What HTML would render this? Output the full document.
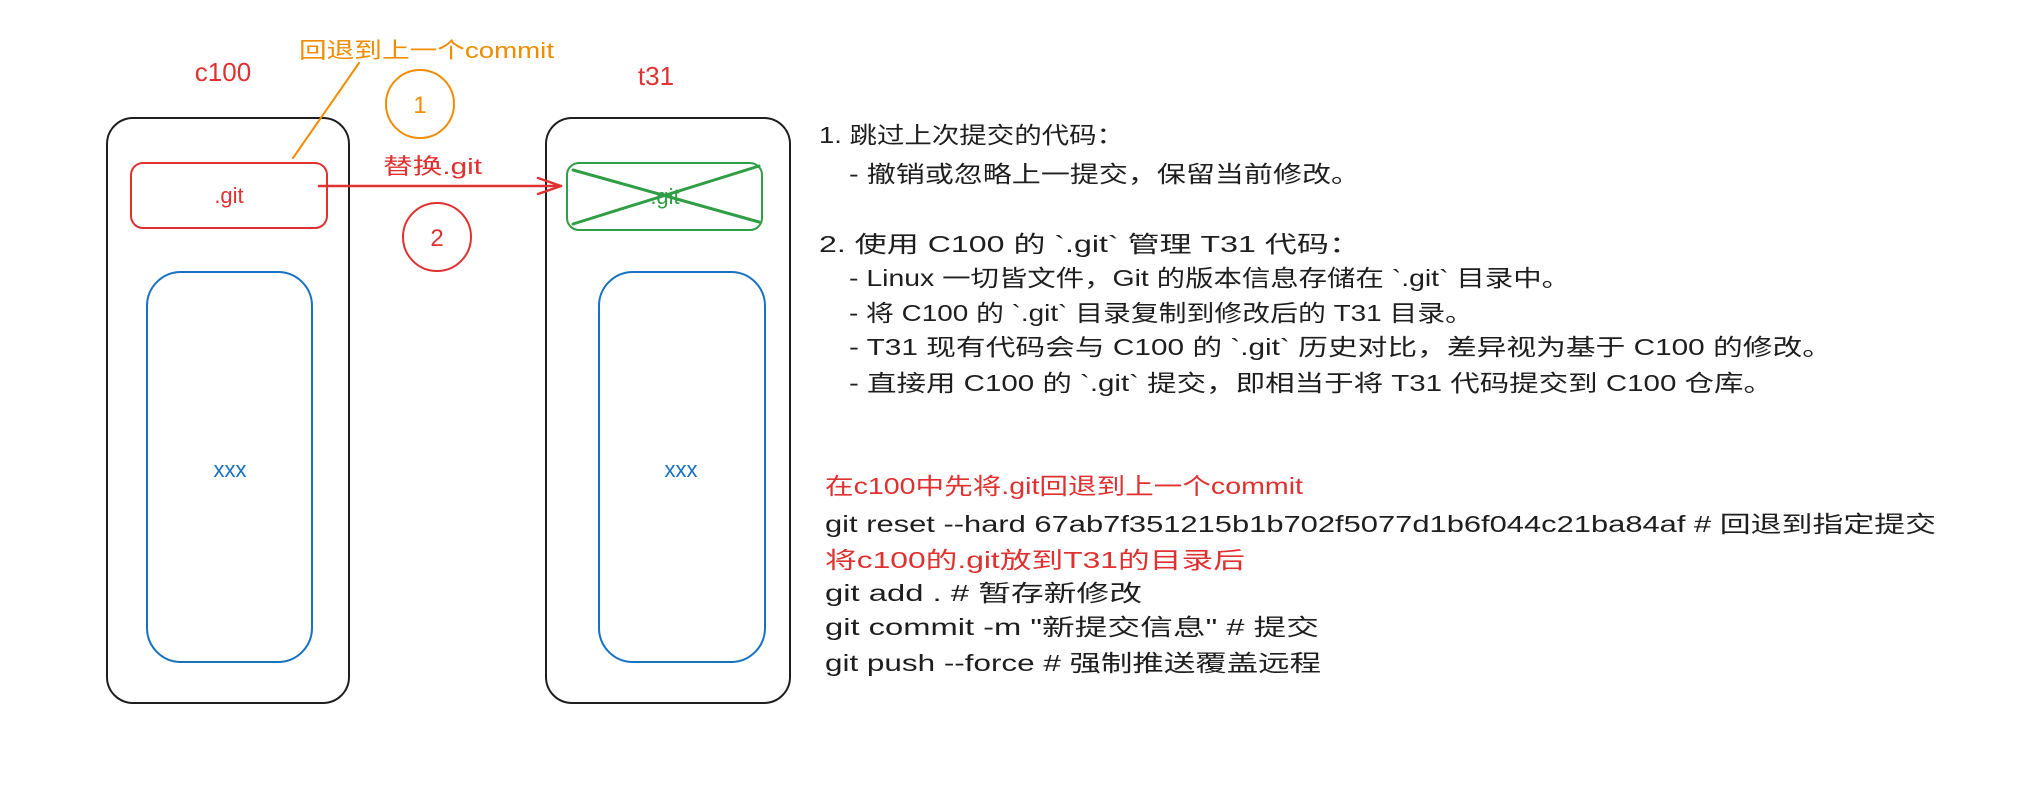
<!DOCTYPE html>
<html><head><meta charset="utf-8"><style>
html,body{margin:0;padding:0;background:#fff;}
svg{display:block;}
text{font-family:"Liberation Sans","Noto Sans CJK SC",sans-serif;}
</style></head><body>
<svg width="2017" height="810" viewBox="0 0 2017 810" xmlns="http://www.w3.org/2000/svg">
<rect width="2017" height="810" fill="#fff"/>
<g fill="none" stroke-linecap="round" stroke-linejoin="round">
<rect x="107" y="118" width="242" height="585" rx="26" stroke="#1e1e1e" stroke-width="2"/>
<rect x="131" y="163" width="196" height="65" rx="12" stroke="#e03131" stroke-width="2"/>
<rect x="147" y="272" width="165" height="390" rx="34" stroke="#1971c2" stroke-width="2"/>
<rect x="546" y="118" width="244" height="585" rx="26" stroke="#1e1e1e" stroke-width="2"/>
<rect x="567" y="163" width="195" height="67" rx="12" stroke="#2f9e44" stroke-width="2"/>
<rect x="599" y="272" width="166" height="390" rx="34" stroke="#1971c2" stroke-width="2"/>
<line x1="573" y1="170" x2="759" y2="222" stroke="#2f9e44" stroke-width="3"/>
<line x1="573" y1="224" x2="759" y2="166" stroke="#2f9e44" stroke-width="3"/>
<line x1="359" y1="63" x2="293" y2="158" stroke="#f08c00" stroke-width="2"/>
<circle cx="420" cy="104" r="34" stroke="#f08c00" stroke-width="2"/>
<circle cx="437" cy="237" r="34" stroke="#e03131" stroke-width="2"/>
<line x1="319" y1="186" x2="561" y2="186" stroke="#e03131" stroke-width="2.5"/>
<polyline points="538,178 561,186 538,194" stroke="#e03131" stroke-width="2.5"/>
</g>
<g font-size="24">
<text x="223" y="81" text-anchor="middle" fill="#e03131" font-size="26">c100</text>
<text x="656" y="85" text-anchor="middle" fill="#e03131" font-size="26">t31</text>
<text x="299" y="58" fill="#f08c00" font-size="22" textLength="255" lengthAdjust="spacingAndGlyphs">回退到上一个commit</text>
<text x="420" y="113" text-anchor="middle" fill="#f08c00">1</text>
<text x="437" y="246" text-anchor="middle" fill="#e03131">2</text>
<text x="383" y="174" fill="#e03131" font-size="22" textLength="99" lengthAdjust="spacingAndGlyphs">替换.git</text>
<text x="229" y="203" text-anchor="middle" fill="#e03131" font-size="22">.git</text>
<text x="665" y="204" text-anchor="middle" fill="#2f9e44" font-size="22">.git</text>
<text x="230" y="477" text-anchor="middle" fill="#1971c2" font-size="22">xxx</text>
<text x="681" y="477" text-anchor="middle" fill="#1971c2" font-size="22">xxx</text>
</g>
<g font-size="23" fill="#1e1e1e">
<text x="819" y="143" textLength="305" lengthAdjust="spacingAndGlyphs">1. 跳过上次提交的代码：</text>
<text x="849" y="182" textLength="511" lengthAdjust="spacingAndGlyphs">- 撤销或忽略上一提交，保留当前修改。</text>
<text x="819" y="252" textLength="542" lengthAdjust="spacingAndGlyphs">2. 使用 C100 的 `.git` 管理 T31 代码：</text>
<text x="849" y="286" textLength="721" lengthAdjust="spacingAndGlyphs">- Linux 一切皆文件，Git 的版本信息存储在 `.git` 目录中。</text>
<text x="849" y="321" textLength="624" lengthAdjust="spacingAndGlyphs">- 将 C100 的 `.git` 目录复制到修改后的 T31 目录。</text>
<text x="849" y="355" textLength="983" lengthAdjust="spacingAndGlyphs">- T31 现有代码会与 C100 的 `.git` 历史对比，差异视为基于 C100 的修改。</text>
<text x="849" y="391" textLength="924" lengthAdjust="spacingAndGlyphs">- 直接用 C100 的 `.git` 提交，即相当于将 T31 代码提交到 C100 仓库。</text>
<text x="825" y="494" fill="#e03131" textLength="478" lengthAdjust="spacingAndGlyphs">在c100中先将.git回退到上一个commit</text>
<text x="825" y="532" textLength="1111" lengthAdjust="spacingAndGlyphs">git reset --hard 67ab7f351215b1b702f5077d1b6f044c21ba84af  # 回退到指定提交</text>
<text x="825" y="568" fill="#e03131" textLength="420" lengthAdjust="spacingAndGlyphs">将c100的.git放到T31的目录后</text>
<text x="825" y="601" textLength="317" lengthAdjust="spacingAndGlyphs">git add .  # 暂存新修改</text>
<text x="825" y="635" textLength="494" lengthAdjust="spacingAndGlyphs">git commit -m "新提交信息"  # 提交</text>
<text x="825" y="671" textLength="496" lengthAdjust="spacingAndGlyphs">git push --force  # 强制推送覆盖远程</text>
</g>
</svg>
</body></html>
